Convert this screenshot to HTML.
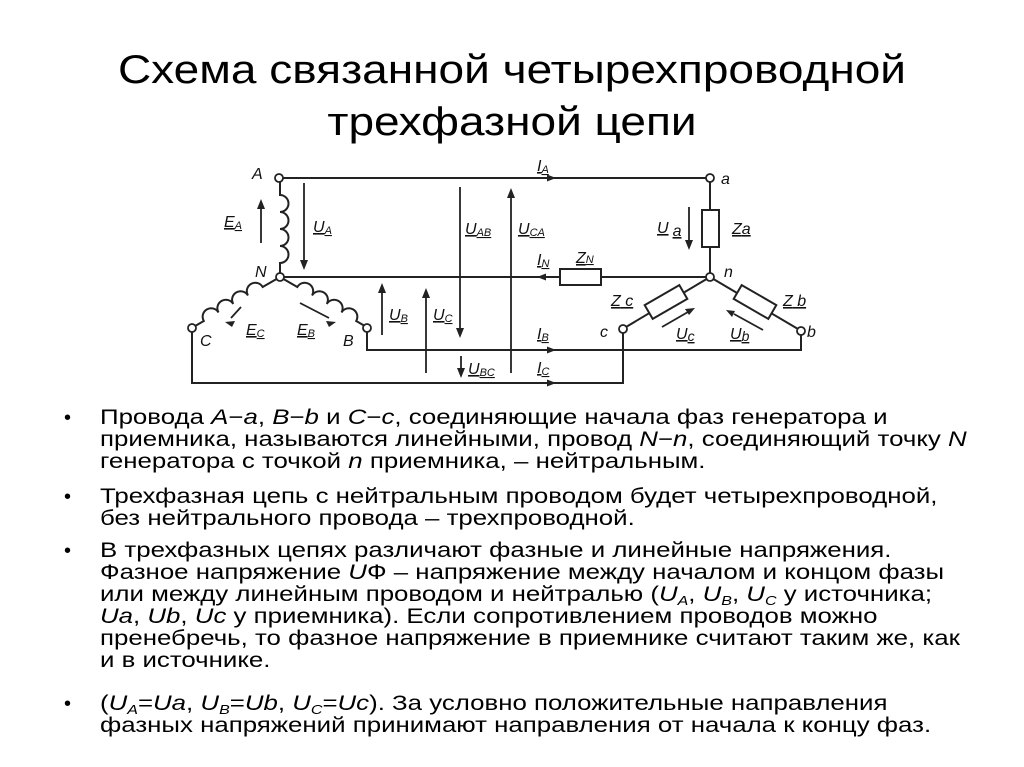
<!DOCTYPE html>
<html><head><meta charset="utf-8"><style>
body{margin:0;width:1024px;height:767px;background:#fff;position:relative;overflow:hidden;font-family:"Liberation Sans","Noto Sans CJK SC",sans-serif;color:#000}
.t{position:absolute;left:0;width:1024px;text-align:center;font-size:40px;line-height:44px;transform:scaleX(1.15);transform-origin:512px 0}
.l{position:absolute;left:100px;font-size:21px;white-space:nowrap;line-height:22px;transform:scaleX(1.23);transform-origin:0 0}
.b{position:absolute;left:64px;font-size:20px}
sub{font-size:13px;vertical-align:-4px;line-height:0}
svg text{font-family:"Liberation Sans",sans-serif;font-style:italic;font-size:16px;fill:#111}
</style></head><body>
<div class="t" style="top:48px">Схема связанной четырехпроводной</div>
<div class="t" style="top:100px">трехфазной цепи</div>

<svg width="1024" height="767" style="position:absolute;left:0;top:0">
<g stroke="#222" stroke-width="2" fill="none">
<path d="M283,178 H706"/>
<path d="M284,277 H706"/>
<path d="M367,332 V350 H801 V335"/>
<path d="M192,332 V383 H623 V333"/>
<path d="M710,182 V210 M710,247 V273"/>
<path d="M280,181 V195 a8.5,8.5 0 0 1 0,17 a8.5,8.5 0 0 1 0,17 a8.5,8.5 0 0 1 0,17 a8.5,8.5 0 0 1 0,17 V273"/>
<g transform="translate(280,277) rotate(150)"><path d="M3,0 H20 a8.5,8.5 0 0 0 17,0 a8.5,8.5 0 0 0 17,0 a8.5,8.5 0 0 0 17,0 a8.5,8.5 0 0 0 17,0 H98"/></g>
<g transform="translate(280,277) rotate(30)"><path d="M3,0 H20 a8.5,8.5 0 0 1 17,0 a8.5,8.5 0 0 1 17,0 a8.5,8.5 0 0 1 17,0 a8.5,8.5 0 0 1 17,0 H97"/></g>
<rect x="702" y="210" width="17" height="37" fill="#fff"/>
<rect x="560" y="269" width="41" height="16" fill="#fff"/>
<path d="M710,277 L626,327 M710,277 L798,329"/>
<g transform="translate(666,302) rotate(-30)"><rect x="-20" y="-8" width="40" height="16" fill="#fff"/></g>
<g transform="translate(755,302) rotate(30)"><rect x="-20" y="-8" width="40" height="16" fill="#fff"/></g>
<g fill="#fff" stroke-width="1.8">
<circle cx="279" cy="178" r="4"/><circle cx="280" cy="277" r="4"/>
<circle cx="192" cy="328" r="4"/><circle cx="367" cy="328" r="4"/>
<circle cx="710" cy="178" r="4"/><circle cx="710" cy="277" r="4"/>
<circle cx="623" cy="329" r="4"/><circle cx="801" cy="331" r="4"/>
</g>
<g stroke-width="1.8">
<path d="M304,183 V262"/><path d="M261,243 V208"/>
<path d="M460,187 V330"/><path d="M511,373 V196"/>
<path d="M382,335 V291"/><path d="M426,373 V296"/>
<path d="M461,356 V370"/><path d="M689,207 V242"/>
<path d="M662,327 L688,312"/><path d="M763,330 L734,314"/>
<path d="M241,307 L231,318"/><path d="M300,303 L329,318"/>
</g>
</g>
<g fill="#222">
<path d="M304,270 l-4,-10 h8z"/><path d="M261,199 l-4,10 h8z"/>
<path d="M460,338 l-4,-10 h8z"/><path d="M511,188 l-4,10 h8z"/>
<path d="M382,283 l-4,10 h8z"/><path d="M426,288 l-4,10 h8z"/>
<path d="M461,378 l-4,-10 h8z"/><path d="M689,250 l-4,-10 h8z"/>
<path d="M556,178 l-9,-3.5 v7z"/><path d="M537,277 l9,-3.5 v7z"/>
<path d="M556,350 l-9,-3.5 v7z"/><path d="M556,383 l-9,-3.5 v7z"/>
<path d="M695,308 l-10,1 l4,6z"/><path d="M726,310 l6,7 l3,-6z"/>
<path d="M225,322 l10,-1 l-3,6z"/><path d="M336,322 l-10,-1 l3,6z"/>
</g>
<text x="252" y="179">A</text>
<text x="224" y="227" text-decoration="underline">E<tspan font-size="11" dy="2">A</tspan></text>
<text x="313" y="232" text-decoration="underline">U<tspan font-size="11" dy="2">A</tspan></text>
<text x="465" y="234" text-decoration="underline">U<tspan font-size="11" dy="2">AB</tspan></text>
<text x="518" y="234" text-decoration="underline">U<tspan font-size="11" dy="2">CA</tspan></text>
<text x="255" y="277">N</text>
<text x="246" y="335" text-decoration="underline">E<tspan font-size="11" dy="2">C</tspan></text>
<text x="297" y="335" text-decoration="underline">E<tspan font-size="11" dy="2">B</tspan></text>
<text x="200" y="346">C</text>
<text x="343" y="346">B</text>
<text x="389" y="320" text-decoration="underline">U<tspan font-size="11" dy="2">B</tspan></text>
<text x="433" y="320" text-decoration="underline">U<tspan font-size="11" dy="2">C</tspan></text>
<text x="468" y="374" text-decoration="underline">U<tspan font-size="11" dy="2">BC</tspan></text>
<text x="537" y="171" text-decoration="underline">I<tspan font-size="11" dy="2">A</tspan></text>
<text x="537" y="265" text-decoration="underline">I<tspan font-size="11" dy="2">N</tspan></text>
<text x="576" y="263" text-decoration="underline">Z<tspan font-size="11">N</tspan></text>
<text x="537" y="339" text-decoration="underline">I<tspan font-size="11" dy="2">B</tspan></text>
<text x="537" y="373" text-decoration="underline">I<tspan font-size="11" dy="2">C</tspan></text>
<text x="721" y="184">a</text>
<text x="732" y="234" text-decoration="underline">Z<tspan>a</tspan></text>
<text x="657" y="233" text-decoration="underline">U<tspan dx="4" dy="3">a</tspan></text>
<text x="724" y="277">n</text>
<text x="611" y="306" text-decoration="underline">Z<tspan> c</tspan></text>
<text x="783" y="306" text-decoration="underline">Z<tspan> b</tspan></text>
<text x="600" y="337">c</text>
<text x="807" y="337">b</text>
<text x="676" y="339" text-decoration="underline">U<tspan font-size="14" dy="2">c</tspan></text>
<text x="730" y="339" text-decoration="underline">U<tspan font-size="14" dy="2">b</tspan></text>
</svg>

<div class="b" style="top:407px">•</div>
<div class="l" style="top:407px">Провода <i>A</i>−<i>a</i>, <i>B</i>−<i>b</i> и <i>C</i>−<i>c</i>, соединяющие начала фаз генератора и<br>приемника, называются линейными, провод <i>N</i>−<i>n</i>, соединяющий точку <i>N</i><br>генератора с точкой <i>n</i> приемника, – нейтральным.</div>
<div class="b" style="top:486px">•</div>
<div class="l" style="top:486px">Трехфазная цепь с нейтральным проводом будет четырехпроводной,<br>без нейтрального провода – трехпроводной.</div>
<div class="b" style="top:540px">•</div>
<div class="l" style="top:540px">В трехфазных цепях различают фазные и линейные напряжения.<br>Фазное напряжение <i>U</i>Ф – напряжение между началом и концом фазы<br>или между линейным проводом и нейтралью (<i>U<sub>A</sub></i>, <i>U<sub>B</sub></i>, <i>U<sub>C</sub></i> у источника;<br><i>Ua</i>, <i>Ub</i>, <i>Uc</i> у приемника). Если сопротивлением проводов можно<br>пренебречь, то фазное напряжение в приемнике считают таким же, как<br>и в источнике.</div>
<div class="b" style="top:693px">•</div>
<div class="l" style="top:693px">(<i>U<sub>A</sub></i>=<i>Ua</i>, <i>U<sub>B</sub></i>=<i>Ub</i>, <i>U<sub>C</sub></i>=<i>Uc</i>). За условно положительные направления<br>фазных напряжений принимают направления от начала к концу фаз.</div>
</body></html>
